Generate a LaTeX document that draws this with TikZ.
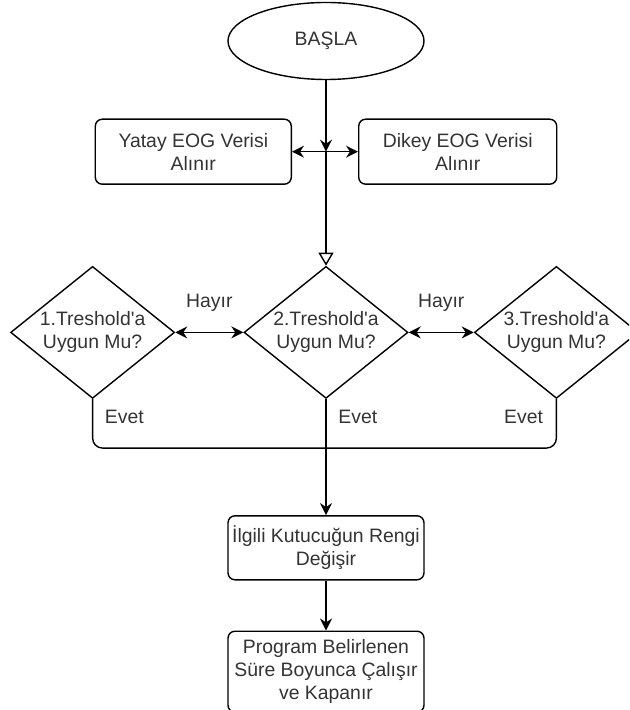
\documentclass[tikz,border=0pt]{standalone}
\usepackage{fontspec}
\setmainfont{Liberation Sans}
\usetikzlibrary{shapes.geometric,arrows.meta,positioning}

\begin{document}
\begin{tikzpicture}[
      node distance=25pt,
      txt/.style={font=\fontsize{9.7}{11.5}\selectfont, text=black!80},
      block/.style={draw, rounded corners=3.5pt, line width=0.7pt, minimum width=98pt, inner xsep=1pt, align=center, txt},
      startbox/.style={ellipse, draw, line width=0.7pt, minimum width=98pt, minimum height=38.5pt, txt},
      decision/.style={diamond, aspect=1.24, draw, line width=0.7pt, minimum width=82pt, minimum height=66pt, inner sep=0pt, align=center, txt},
      lbl/.style={inner sep=0pt, txt},
      line/.style={line width=0.7pt},
      arrow/.style={-{Stealth[length=6pt,width=6pt,inset=2pt]}, line width=0.7pt},
      twoway/.style={{Stealth[length=6pt,width=6pt,inset=2pt]}-{Stealth[length=6pt,width=6pt,inset=2pt]}, line width=0.7pt},
      hollow/.style={-{Triangle[open,length=6.5pt,width=7.5pt]}, line width=0.7pt}
    ]
      % Frame
      \path[use as bounding box, clip] (-163pt,20.5pt) rectangle (151.5pt,-334.5pt);

      % Start
      \node[startbox] (start) {BAŞLA};
      \coordinate[below=35.75pt of start] (split);

      % Data
      \node[block, minimum height=32.5pt, left=17pt of split] (yatay) {Yatay EOG Verisi\\Alınır};
      \node[block, minimum height=32.5pt, minimum width=99pt, right=16pt of split] (dikey) {Dikey EOG Verisi\\Alınır};

      \draw[arrow] (start) -- (split);
      \draw[arrow] (split) -- (yatay);
      \draw[arrow] (split) -- (dikey);

      % Thresholds
      \node[decision, below=57pt of split] (d2) {2.Treshold{\textquotesingle}a\\Uygun Mu?};
      \node[decision, left=34pt of d2] (d1) {1.Treshold{\textquotesingle}a\\Uygun Mu?};
      \node[decision, right=32.5pt of d2] (d3) {3.Treshold{\textquotesingle}a\\Uygun Mu?};

      \draw[hollow] (split) -- (d2);
      \draw[twoway] (d1) -- node[lbl, above=10pt] (hayir1) {Hayır} (d2);
      \draw[twoway] (d2) -- node[lbl, above=10pt] (hayir2) {Hayır} (d3);

      % Evet
      \coordinate[below=24.5pt of d2] (merge);
      \draw[line, rounded corners=5pt] (d1.south) |- (merge) -| (d3.south);
      \node[lbl, below right=5.5pt and 6pt of d1.south] (evet1) {Evet};
      \node[lbl, below right=5.5pt and 6pt of d2.south] (evet2) {Evet};
      \node[lbl, below left=5.5pt and 6.5pt of d3.south] (evet3) {Evet};

      % Result
      \node[block, minimum height=32pt, below=58pt of d2] (renk) {İlgili Kutucuğun Rengi\\Değişir};
      \node[block, minimum height=40.5pt, below=25pt of renk] (son) {Program Belirlenen\\Süre Boyunca Çalışır\\ve Kapanır};

      \draw[arrow] (d2) -- (renk);
      \draw[arrow] (renk) -- (son);
    \end{tikzpicture}
\end{document}
